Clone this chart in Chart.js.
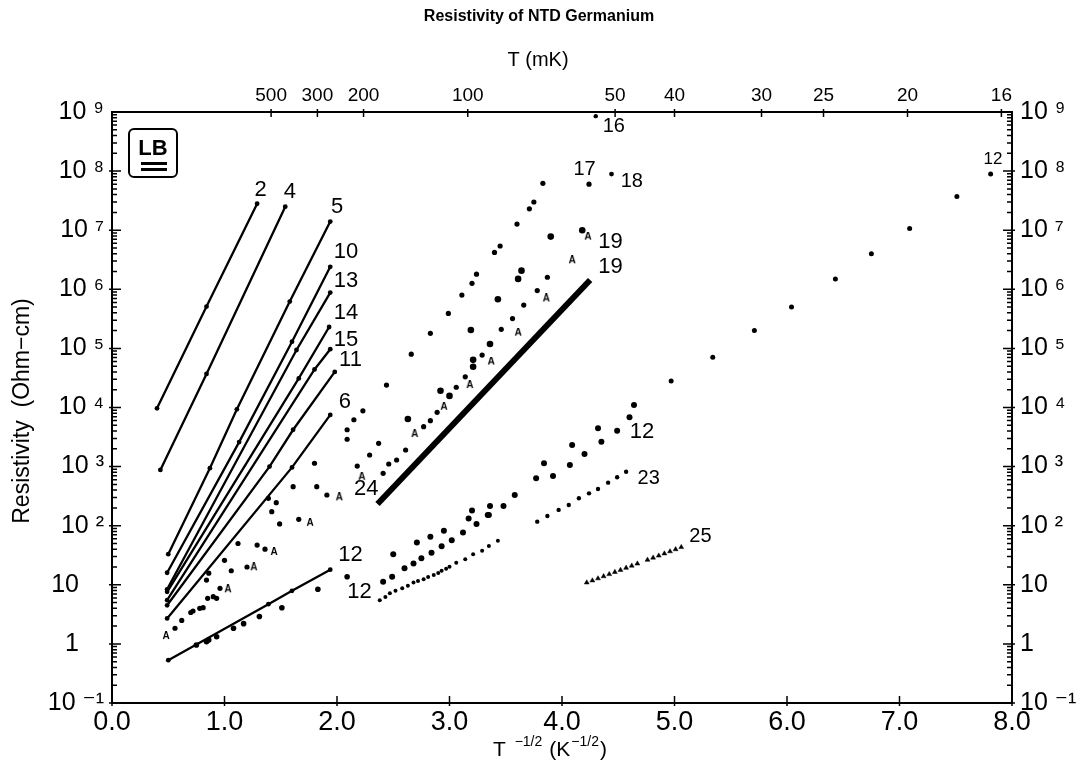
<!DOCTYPE html>
<html>
<head>
<meta charset="utf-8">
<script src="https://cdn.jsdelivr.net/npm/chart.js@4.4.0/dist/chart.umd.min.js"></script>
<style>
  html, body { margin: 0; padding: 0; background: #fff; }
  #wrap { width: 1085px; height: 774px; }
</style>
</head>
<body>
<div id="wrap"><canvas id="chart" width="1085" height="774"></canvas></div>
<script>
/* ── Data: [T^-1/2, resistivity] ── */
const line2  = [[0.40, 9.7e3], [0.84, 5.1e5], [1.29, 2.8e7]];
const line4  = [[0.43, 880], [0.84, 3.7e4], [1.54, 2.5e7]];
const line5  = [[0.50, 33], [0.87, 940], [1.11, 9.3e3], [1.58, 6.2e5], [1.94, 1.4e7]];
const line10 = [[0.49, 16], [1.13, 2.6e3], [1.60, 1.3e5], [1.94, 2.4e6]];
const line13 = [[0.49, 8.4], [1.64, 9.4e4], [1.94, 8.8e5]];
const line14 = [[0.49, 7.6], [1.66, 3.1e4], [1.93, 2.3e5]];
const line15 = [[0.49, 5.5], [1.80, 4.4e4], [1.94, 9.7e4]];
const line11 = [[0.49, 4.5], [1.40, 1.0e3], [1.61, 4.2e3], [1.98, 4.0e4]];
const line6  = [[0.49, 2.7], [1.60, 970], [1.94, 7.5e3]];
const line12 = [[0.50, 0.53], [1.39, 4.7], [1.60, 7.9], [1.94, 18]];
const line24 = [[2.36, 233], [4.25, 1.44e6]];

const dots12left = [[0.75, 0.96], [0.84, 1.09], [0.86, 1.16], [0.93, 1.32], [1.08, 1.84], [1.17, 2.2],
  [1.31, 2.9], [1.51, 4.1], [1.83, 8.4], [2.09, 13.7]];

const cloudDots = [[0.56, 1.84], [0.62, 2.5], [0.70, 3.4], [0.72, 3.6], [0.78, 4.0], [0.81, 4.1],
  [0.85, 5.9], [0.90, 6.3], [0.93, 5.9], [0.96, 8.7], [0.84, 12], [0.86, 15.7], [1.00, 26],
  [1.06, 17.3], [1.20, 20], [1.12, 50], [1.29, 47], [1.36, 40], [1.39, 291], [1.46, 245],
  [1.42, 173], [1.49, 107], [1.66, 128], [1.61, 457], [1.80, 1140], [1.82, 457], [1.91, 331],
  [2.09, 2.9e3], [2.09, 4.2e3], [2.15, 6.2e3], [2.23, 8.8e3], [2.18, 1020], [2.29, 1570], [2.37, 2480],
  [2.41, 771], [2.46, 1107], [2.53, 1294], [2.61, 1910], [2.77, 4730], [2.83, 5980], [2.89, 8280],
  [3.06, 2.2e4], [3.14, 3.3e4], [3.29, 7.7e4], [3.46, 2.1e5], [3.56, 3.2e5], [3.66, 5.4e5],
  [3.78, 9.5e5], [3.87, 1.6e6]];
const cloudBig = [[2.63, 6380], [2.92, 1.92e4], [3.00, 1.57e4], [3.19, 2.05e5], [3.21, 6.4e4],
  [3.21, 4.9e4], [3.36, 1.19e5], [3.43, 6.8e5], [3.61, 1.5e6], [3.64, 2.07e6], [3.90, 7.8e6], [4.18, 1.0e7]];
const cloudA = [[0.48, 1.36], [1.03, 8.4], [1.26, 19.8], [1.44, 36], [1.76, 112], [2.02, 302],
  [2.22, 675], [2.69, 3560], [2.95, 1.03e4], [3.18, 2.4e4], [3.37, 6.0e4], [3.61, 1.85e5],
  [3.86, 7.0e5], [4.09, 3.1e6], [4.23, 7.8e6]];

const dots17 = [[2.44, 2.4e4], [2.66, 8.0e4], [2.83, 1.8e5], [2.99, 3.9e5], [3.11, 8.0e5], [3.20, 1.26e6],
  [3.24, 1.8e6], [3.40, 4.2e6], [3.45, 5.4e6], [3.60, 1.27e7], [3.71, 2.3e7], [3.75, 3.0e7], [3.83, 6.2e7],
  [4.24, 6.0e7]];
const dots18 = [[4.44, 8.9e7]];
const dots16 = [[4.30, 8.5e8]];

const dots12mid = [[2.50, 33], [2.71, 52], [2.83, 65], [2.95, 82], [3.12, 77], [3.17, 133], [3.20, 180],
  [3.34, 152], [3.36, 215], [3.48, 215], [3.58, 331], [3.77, 634], [3.84, 1140], [3.92, 693],
  [4.07, 1064], [4.09, 2317], [4.20, 1633], [4.32, 4446], [4.35, 2636], [4.49, 4046], [4.60, 6823], [4.64, 1.1e4],
  [2.41, 11.3], [2.49, 13.7], [2.60, 19], [2.68, 23], [2.75, 28], [2.84, 35], [2.93, 45], [3.02, 57],
  [3.24, 107], [3.35, 152]];
const dots12low = [[2.38, 5.5], [2.43, 6.2], [2.47, 7.2], [2.52, 7.9], [2.58, 8.7], [2.63, 9.6], [2.68, 10.9],
  [2.72, 11.6], [2.77, 12.4], [2.81, 13.5], [2.86, 14.7], [2.90, 15.9], [2.93, 17.3], [2.97, 18.6],
  [3.00, 20.2], [3.06, 23.7], [3.14, 27], [3.21, 33], [3.29, 37.8], [3.35, 45.4], [3.43, 55.7]];
const dots23 = [[3.78, 117], [3.87, 146], [3.97, 185], [4.06, 224], [4.15, 291], [4.24, 353], [4.32, 418],
  [4.41, 535], [4.49, 659], [4.57, 820]];
const tri25 = [[4.22, 10.9], [4.27, 11.8], [4.32, 12.8], [4.37, 13.9], [4.42, 15.1], [4.47, 16.4], [4.52, 17.8],
  [4.57, 19.3], [4.62, 21.0], [4.67, 22.8], [4.76, 26.4], [4.81, 28.7], [4.86, 31.1], [4.91, 33.8],
  [4.96, 36.7], [5.01, 39.8], [5.06, 43.3]];
const dots12right = [[4.97, 2.8e4], [5.34, 7.1e4], [5.71, 2.0e5], [6.04, 5.0e5], [6.43, 1.5e6], [6.75, 4.0e6],
  [7.09, 1.07e7], [7.51, 3.7e7], [7.81, 8.9e7]];

/* series labels: [text, x, resistivity, font size] */
const seriesLabels = [['2', 1.32, 4.8e7, 22], ['4', 1.58, 4.5e7, 22], ['5', 2.00, 2.5e7, 22],
  ['10', 2.08, 4.3e6, 22], ['13', 2.08, 1.4e6, 22], ['14', 2.08, 4.0e5, 22], ['15', 2.08, 1.4e5, 22],
  ['11', 2.12, 6.4e4, 22], ['6', 2.07, 1.25e4, 22], ['12', 2.12, 32, 22], ['12', 2.20, 7.6, 22],
  ['24', 2.26, 413, 22], ['16', 4.46, 5.6e8, 20], ['17', 4.20, 1.05e8, 20], ['18', 4.62, 6.6e7, 20],
  ['19', 4.43, 6.4e6, 22], ['19', 4.43, 2.4e6, 22], ['12', 4.71, 3.9e3, 22], ['23', 4.77, 634, 20],
  ['25', 5.23, 65, 20], ['12', 7.83, 1.6e8, 17]];

/* axes */
const xTicks = [0, 1, 2, 3, 4, 5, 6, 7, 8];
const topT = [500, 300, 200, 100, 50, 40, 30, 25, 20, 16];   // mK
const yTicks = [1e-1, 1, 10, 1e2, 1e3, 1e4, 1e5, 1e6, 1e7, 1e8, 1e9];
const yLabels = ['10 \u207B\u00B9', '1\u2002\u2002', '10\u2002\u2002', '10 \u00B2', '10 \u00B3', '10 \u2074',
  '10 \u2075', '10 \u2076', '10 \u2077', '10 \u2078', '10 \u2079'];
const yLabelsR = ['10 \u207B\u00B9', '1', '10', '10 \u00B2', '10 \u00B3', '10 \u2074',
  '10 \u2075', '10 \u2076', '10 \u2077', '10 \u2078', '10 \u2079'];

const FONT = "'Liberation Sans', 'DejaVu Sans', Arial, sans-serif";

function pts(arr) { return arr.map(([x, y]) => ({ x, y })); }

function letterA() {
    const c = document.createElement('canvas');
    c.width = 10; c.height = 10;
    const g = c.getContext('2d');
    g.font = 'bold 10px ' + FONT;
    g.textAlign = 'center'; g.textBaseline = 'middle';
    g.fillStyle = '#000';
    g.fillText('A', 5, 5.5);
    return c;
}
const markA = letterA();

function lineSet(arr, width) {
    return { data: pts(arr), showLine: true, borderColor: '#000', borderWidth: width || 2.3,
             pointRadius: 2.4, pointBackgroundColor: '#000', pointBorderWidth: 0 };
}
function dotSet(arr, r) {
    return { data: pts(arr), showLine: false, pointRadius: r, pointBackgroundColor: '#000',
             pointBorderWidth: 0, borderColor: '#000' };
}

const datasets = [
    lineSet(line2), lineSet(line4), lineSet(line5), lineSet(line10), lineSet(line13),
    lineSet(line14), lineSet(line15), lineSet(line11), lineSet(line6), lineSet(line12),
    Object.assign(lineSet(line24, 6), { pointRadius: 0 }),
    dotSet(dots12left, 2.8), dotSet(cloudDots, 2.6), dotSet(cloudBig, 3.3),
    { data: pts(cloudA), showLine: false, pointStyle: markA, pointRadius: 5 },
    dotSet(dots17, 2.6), dotSet(dots18, 2.4), dotSet(dots16, 2.2),
    dotSet(dots12mid, 3.0), dotSet(dots12low, 2.0), dotSet(dots23, 2.2),
    { data: pts(tri25), showLine: false, pointStyle: 'triangle', pointRadius: 2.8,
      pointBackgroundColor: '#000', borderColor: '#000', pointBorderWidth: 0.5 },
    dotSet(dots12right, 2.5),
];

/* ── Frame ticks, titles, series labels, logo ── */
const decor = {
    id: 'decor',
    afterDraw(chart) {
        const ctx = chart.ctx;
        const { left, right, top, bottom } = chart.chartArea;
        const x = chart.scales.x, y = chart.scales.y;
        ctx.save();
        ctx.strokeStyle = '#000';
        ctx.fillStyle = '#000';

        // log ticks on both side axes
        ctx.lineWidth = 1.5;
        for (let d = -1; d < 9; d++) {
            for (let m = 1; m <= 9; m++) {
                const py = y.getPixelForValue(m * Math.pow(10, d));
                const len = m === 1 ? 9 : 5;
                ctx.beginPath();
                ctx.moveTo(left - (m === 1 ? 3 : 0), py); ctx.lineTo(left + len, py);
                ctx.moveTo(right + (m === 1 ? 3 : 0), py); ctx.lineTo(right - len, py);
                ctx.stroke();
            }
        }
        // bottom ticks
        for (const v of xTicks) {
            const px = x.getPixelForValue(v);
            ctx.beginPath(); ctx.moveTo(px, bottom + 3); ctx.lineTo(px, bottom - 7); ctx.stroke();
        }
        // top ticks at T positions
        const xt = chart.scales.xTop;
        for (const t of xt.ticks) {
            const px = xt.getPixelForValue(t.value);
            ctx.beginPath(); ctx.moveTo(px, top - 3); ctx.lineTo(px, top + 5); ctx.stroke();
        }

        // titles
        ctx.textAlign = 'center'; ctx.textBaseline = 'middle';
        ctx.font = 'bold 16px ' + FONT;
        ctx.fillText('Resistivity of NTD Germanium', 539, 17);
        ctx.font = '20px ' + FONT;
        ctx.fillText('T (mK)', 538, 60);

        // x axis title with superscripts
        ctx.textAlign = 'left';
        ctx.font = '21px ' + FONT;
        let cx = 493;
        const by = 750;
        ctx.fillText('T', cx, by); cx += ctx.measureText('T ').width + 3;
        ctx.font = '14px ' + FONT;
        ctx.fillText('\u22121/2', cx, by - 8); cx += ctx.measureText('\u22121/2').width + 7;
        ctx.font = '21px ' + FONT;
        ctx.fillText('(K', cx, by); cx += ctx.measureText('(K').width + 1;
        ctx.font = '14px ' + FONT;
        ctx.fillText('\u22121/2', cx, by - 8); cx += ctx.measureText('\u22121/2').width + 1;
        ctx.font = '21px ' + FONT;
        ctx.fillText(')', cx, by);

        // y axis title
        ctx.save();
        ctx.translate(23, 411);
        ctx.rotate(-Math.PI / 2);
        ctx.textAlign = 'center';
        ctx.font = '23px ' + FONT;
        ctx.fillText('Resistivity  (Ohm\u2212cm)', 0, 0);
        ctx.restore();

        // series labels
        ctx.textAlign = 'center'; ctx.textBaseline = 'middle';
        for (const [txt, lx, ly, size] of seriesLabels) {
            ctx.font = size + 'px ' + FONT;
            ctx.fillText(txt, x.getPixelForValue(lx), y.getPixelForValue(ly));
        }

        // LBL logo box
        const gx = left + 17, gy = top + 17;
        ctx.lineWidth = 2;
        ctx.beginPath();
        ctx.roundRect(gx, gy, 48, 48, 5);
        ctx.stroke();
        ctx.font = 'bold 22px ' + FONT;
        ctx.fillText('LB', gx + 24, gy + 20);
        ctx.fillRect(gx + 12, gy + 33, 26, 3);
        ctx.fillRect(gx + 12, gy + 39, 26, 3);
        ctx.restore();
    }
};

const tickFont = { family: FONT, size: 25 };

new Chart(document.getElementById('chart').getContext('2d'), {
    type: 'scatter',
    data: { datasets },
    options: {
        responsive: false,
        animation: false,
        devicePixelRatio: 1,
        layout: { padding: 0 },
        plugins: { legend: { display: false }, tooltip: { enabled: false } },
        scales: {
            x: {
                type: 'linear', position: 'bottom', min: 0, max: 8,
                afterBuildTicks: s => { s.ticks = xTicks.map(v => ({ value: v })); },
                afterFit: s => { s.height = 71; },
                ticks: { callback: v => v.toFixed(1), font: { family: FONT, size: 27 }, color: '#000',
                         padding: 3, maxRotation: 0, autoSkip: false },
                grid: { display: false, drawTicks: false },
                border: { display: true, color: '#000', width: 2 },
            },
            xTop: {
                type: 'linear', position: 'top', min: 0, max: 8,
                afterBuildTicks: s => { s.ticks = topT.map(t => ({ value: 1 / Math.sqrt(t / 1000) })); },
                afterFit: s => { s.height = 112; },
                ticks: { callback: (v, i) => String(topT[i]), font: { family: FONT, size: 19 },
                         color: '#000', padding: 5, maxRotation: 0, autoSkip: false },
                grid: { display: false, drawTicks: false },
                border: { display: true, color: '#000', width: 2 },
            },
            y: {
                type: 'logarithmic', position: 'left', min: 0.1, max: 1e9,
                afterBuildTicks: s => { s.ticks = yTicks.map(v => ({ value: v })); },
                afterFit: s => { s.width = 112; },
                ticks: { callback: (v, i) => yLabels[i], font: tickFont, color: '#000', padding: 8,
                         autoSkip: false },
                grid: { display: false, drawTicks: false },
                border: { display: true, color: '#000', width: 2 },
            },
            y2: {
                type: 'logarithmic', position: 'right', min: 0.1, max: 1e9,
                afterBuildTicks: s => { s.ticks = yTicks.map(v => ({ value: v })); },
                afterFit: s => { s.width = 73; },
                ticks: { callback: (v, i) => yLabelsR[i], font: tickFont, color: '#000', padding: 8,
                         autoSkip: false },
                grid: { display: false, drawTicks: false },
                border: { display: true, color: '#000', width: 2 },
            },
        },
    },
    plugins: [decor],
});
</script>
</body>
</html>
